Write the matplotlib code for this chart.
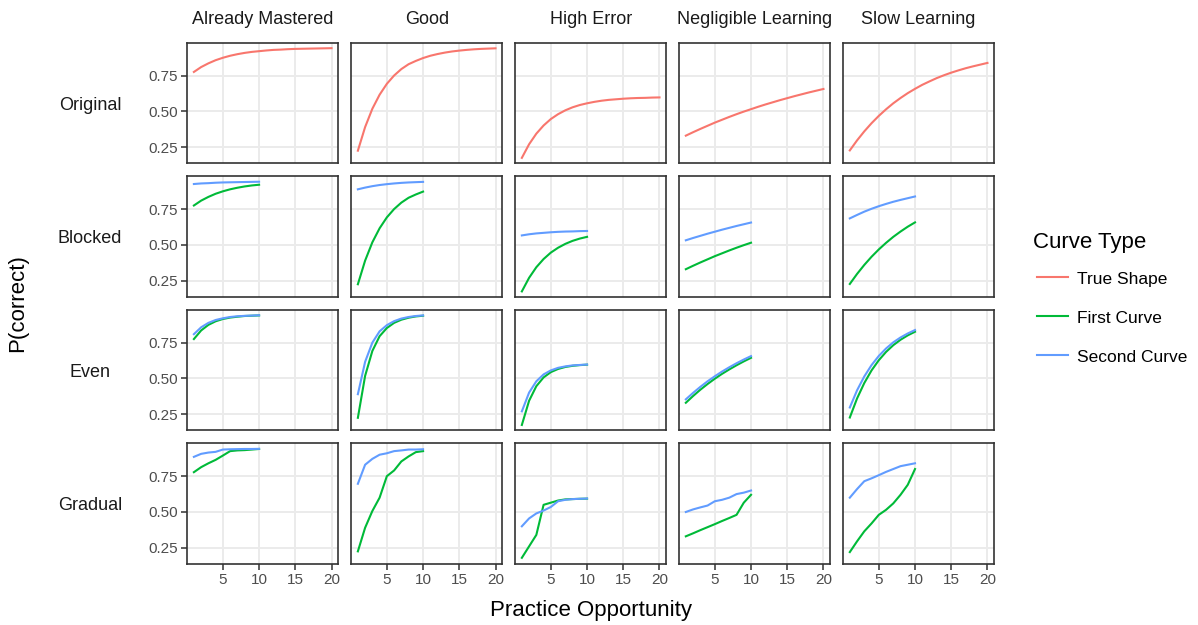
import matplotlib
matplotlib.use("Agg")
import matplotlib.pyplot as plt
from matplotlib.lines import Line2D
import numpy as np

plt.rcParams['font.family'] = ['Liberation Sans', 'DejaVu Sans']

# facets
skills = ["Already Mastered", "Good", "High Error", "Negligible Learning", "Slow Learning"]
schedules = ["Original", "Blocked", "Even", "Gradual"]
curve_types = ["True Shape", "First Curve", "Second Curve"]
curve_colors = ["#F8766D", "#00BA38", "#619CFF"]

opp20 = list(range(1, 21))
opp10 = list(range(1, 11))

# --- Already Mastered ---
true_mastered = [0.775, 0.809, 0.835, 0.857, 0.874, 0.888, 0.899, 0.908, 0.915, 0.920,
                 0.925, 0.929, 0.931, 0.934, 0.936, 0.937, 0.938, 0.939, 0.940, 0.941]
blocked1_mastered = [0.775, 0.809, 0.835, 0.857, 0.874, 0.888, 0.899, 0.908, 0.915, 0.920]
blocked2_mastered = [0.925, 0.929, 0.931, 0.934, 0.936, 0.937, 0.938, 0.939, 0.940, 0.941]
even1_mastered = [0.775, 0.835, 0.874, 0.899, 0.915, 0.925, 0.931, 0.936, 0.938, 0.940]
even2_mastered = [0.809, 0.857, 0.888, 0.908, 0.920, 0.929, 0.934, 0.937, 0.939, 0.941]
gradual1_mastered = [0.778, 0.813, 0.840, 0.864, 0.894, 0.925, 0.930, 0.932, 0.936, 0.940]
gradual2_mastered = [0.885, 0.906, 0.915, 0.920, 0.936, 0.938, 0.939, 0.940, 0.940, 0.941]

# --- Good ---
true_good = [0.225, 0.390, 0.518, 0.616, 0.692, 0.750, 0.795, 0.829, 0.852, 0.872,
             0.888, 0.900, 0.910, 0.918, 0.924, 0.929, 0.933, 0.936, 0.938, 0.940]
blocked1_good = [0.225, 0.390, 0.518, 0.616, 0.692, 0.750, 0.795, 0.829, 0.852, 0.872]
blocked2_good = [0.888, 0.900, 0.910, 0.918, 0.924, 0.929, 0.933, 0.936, 0.938, 0.940]
even1_good = [0.225, 0.518, 0.692, 0.795, 0.852, 0.888, 0.910, 0.924, 0.933, 0.938]
even2_good = [0.390, 0.616, 0.750, 0.829, 0.872, 0.900, 0.918, 0.929, 0.936, 0.940]
gradual1_good = [0.225, 0.390, 0.507, 0.600, 0.750, 0.790, 0.853, 0.888, 0.918, 0.925]
gradual2_good = [0.697, 0.830, 0.871, 0.900, 0.910, 0.925, 0.930, 0.936, 0.936, 0.938]

# --- High Error ---
true_high = [0.175, 0.270, 0.344, 0.401, 0.446, 0.480, 0.507, 0.528, 0.544, 0.556,
             0.566, 0.574, 0.580, 0.584, 0.588, 0.591, 0.593, 0.594, 0.596, 0.597]
blocked1_high = [0.175, 0.270, 0.344, 0.401, 0.446, 0.480, 0.507, 0.528, 0.544, 0.556]
blocked2_high = [0.566, 0.574, 0.580, 0.584, 0.588, 0.591, 0.593, 0.594, 0.596, 0.597]
even1_high = [0.175, 0.344, 0.446, 0.507, 0.544, 0.566, 0.580, 0.588, 0.593, 0.596]
even2_high = [0.270, 0.401, 0.480, 0.528, 0.556, 0.574, 0.584, 0.591, 0.594, 0.597]
gradual1_high = [0.180, 0.260, 0.340, 0.550, 0.565, 0.580, 0.588, 0.590, 0.592, 0.593]
gradual2_high = [0.400, 0.455, 0.490, 0.510, 0.535, 0.575, 0.585, 0.590, 0.592, 0.594]

# --- Negligible Learning ---
true_neg = [0.330, 0.354, 0.377, 0.399, 0.421, 0.441, 0.461, 0.480, 0.498, 0.515,
            0.532, 0.548, 0.563, 0.578, 0.592, 0.606, 0.619, 0.632, 0.644, 0.656]
blocked1_neg = [0.330, 0.354, 0.377, 0.399, 0.421, 0.441, 0.461, 0.480, 0.498, 0.515]
blocked2_neg = [0.532, 0.548, 0.563, 0.578, 0.592, 0.606, 0.619, 0.632, 0.644, 0.656]
even1_neg = [0.330, 0.377, 0.421, 0.461, 0.498, 0.532, 0.563, 0.592, 0.619, 0.644]
even2_neg = [0.354, 0.399, 0.441, 0.480, 0.515, 0.548, 0.578, 0.606, 0.632, 0.656]
gradual1_neg = [0.330, 0.351, 0.373, 0.394, 0.415, 0.437, 0.458, 0.480, 0.565, 0.620]
gradual2_neg = [0.500, 0.518, 0.532, 0.545, 0.575, 0.585, 0.600, 0.625, 0.635, 0.650]

# --- Slow Learning ---
true_slow = [0.227, 0.297, 0.360, 0.417, 0.468, 0.514, 0.556, 0.593, 0.627, 0.657,
             0.685, 0.709, 0.732, 0.752, 0.770, 0.786, 0.801, 0.814, 0.826, 0.838]
blocked1_slow = [0.227, 0.297, 0.360, 0.417, 0.468, 0.514, 0.556, 0.593, 0.627, 0.657]
blocked2_slow = [0.685, 0.709, 0.732, 0.752, 0.770, 0.786, 0.801, 0.814, 0.826, 0.838]
even1_slow = [0.227, 0.360, 0.468, 0.556, 0.627, 0.685, 0.732, 0.770, 0.801, 0.826]
even2_slow = [0.297, 0.417, 0.514, 0.593, 0.657, 0.709, 0.752, 0.786, 0.814, 0.838]
gradual1_slow = [0.220, 0.295, 0.365, 0.420, 0.480, 0.515, 0.560, 0.620, 0.690, 0.800]
gradual2_slow = [0.600, 0.660, 0.715, 0.735, 0.757, 0.780, 0.800, 0.820, 0.830, 0.840]

true_curves = [true_mastered, true_good, true_high, true_neg, true_slow]
split_curves = {
    "Blocked": [(blocked1_mastered, blocked2_mastered), (blocked1_good, blocked2_good),
                (blocked1_high, blocked2_high), (blocked1_neg, blocked2_neg),
                (blocked1_slow, blocked2_slow)],
    "Even": [(even1_mastered, even2_mastered), (even1_good, even2_good),
             (even1_high, even2_high), (even1_neg, even2_neg), (even1_slow, even2_slow)],
    "Gradual": [(gradual1_mastered, gradual2_mastered), (gradual1_good, gradual2_good),
                (gradual1_high, gradual2_high), (gradual1_neg, gradual2_neg),
                (gradual1_slow, gradual2_slow)],
}

W, H = 1198, 625
fig, axes = plt.subplots(4, 5, figsize=(W / 100, H / 100), dpi=100, sharex=True, sharey=True)
fig.subplots_adjust(left=0.1561, right=0.830, top=0.9317, bottom=0.0976,
                    wspace=0.083, hspace=0.107)

lw = 1.5
for r, sched in enumerate(schedules):
    for c, skill in enumerate(skills):
        ax = axes[r, c]
        if sched == "Original":
            ax.plot(opp20, true_curves[c], color=curve_colors[0], lw=lw)
        else:
            first, second = split_curves[sched][c]
            ax.plot(opp10, first, color=curve_colors[1], lw=lw)
            ax.plot(opp10, second, color=curve_colors[2], lw=lw)

        ax.grid(True, color="#EBEBEB", lw=1.4)
        ax.set_axisbelow(True)
        for s in ax.spines.values():
            s.set_color("#333333")
            s.set_linewidth(1.2)
        ax.tick_params(direction="out", length=4, width=1.1, color="#333333",
                       labelcolor="#4D4D4D", labelsize=11, pad=2.5,
                       left=(c == 0), bottom=(r == 3))

# shared scales with ggplot-like expansion
all_vals = np.concatenate([np.ravel(v) for v in true_curves] +
                          [np.ravel(p) for s in split_curves.values() for pair in s for p in pair])
ymin, ymax = all_vals.min(), all_vals.max()
yr = ymax - ymin
axes[0, 0].set_ylim(ymin - 0.05 * yr, ymax + 0.05 * yr)
axes[0, 0].set_xlim(1 - 0.05 * 19, 20 + 0.05 * 19)
axes[0, 0].set_xticks([5, 10, 15, 20])
axes[0, 0].set_yticks([0.25, 0.50, 0.75])
axes[0, 0].set_yticklabels(["0.25", "0.50", "0.75"])

# column strips
for c, skill in enumerate(skills):
    pos = axes[0, c].get_position()
    fig.text((pos.x0 + pos.x1) / 2, 1 - 24.3 / H, skill, ha="center", va="baseline",
             fontsize=13, color="#1A1A1A")

# row strips (left, outside)
for r, sched in enumerate(schedules):
    pos = axes[r, 0].get_position()
    yc = (pos.y0 + pos.y1) / 2
    fig.text(90 / W, yc - 6.5 / H, sched, ha="center", va="baseline",
             fontsize=13, color="#1A1A1A")

# axis titles
top = axes[0, 0].get_position().y1
bot = axes[3, 0].get_position().y0
fig.text(18 / W, (top + bot) / 2, "P(correct)", rotation=90, ha="center", va="center",
         fontsize=16)
l = axes[3, 0].get_position().x0
rgt = axes[3, 4].get_position().x1
fig.text((l + rgt) / 2, 1 - 616 / H, "Practice Opportunity", ha="center", va="baseline",
         fontsize=16)

# legend
fig.text(1033 / W, 1 - 247.7 / H, "Curve Type", ha="left", va="baseline", fontsize=16)
for i, (name, col) in enumerate(zip(curve_types, curve_colors)):
    y_line = 277.3 + i * 38.8
    fig.add_artist(Line2D([1036.7 / W, 1068.3 / W], [1 - y_line / H, 1 - y_line / H],
                          transform=fig.transFigure, color=col, lw=lw))
    fig.text(1077.3 / W, 1 - (y_line + 7) / H, name, ha="left", va="baseline", fontsize=12.5)

fig.savefig("out.png", dpi=100)
